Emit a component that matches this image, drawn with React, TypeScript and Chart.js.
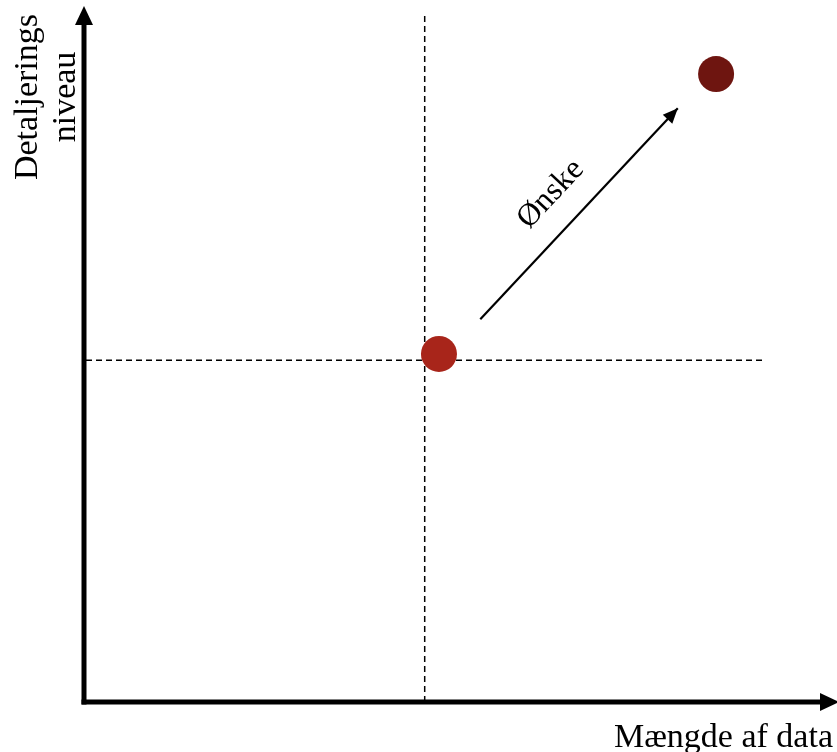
import React, { useEffect, useRef } from "react";
import { Chart, registerables } from "chart.js";

Chart.register(...registerables);

// ---- data (axis units 0..100) ----
const pointXs = [47.0, 83.9];
const pointYs = [50.3, 90.75];
const pointColors = ["#A8251A", "#6E1510"];
const refLineX = 45.1; // vertical dashed reference
const refLineY = 49.4; // horizontal dashed reference
const hLineXs = [0, 90.4];
const vLineYs = [0, 99.7];
const arrowXs = [52.5, 78.8];
const arrowYs = [55.3, 85.8];
const arrowLabel = "Ønske";
const yTitle = ["Detaljerings", "niveau"];
const xTitle = "Mængde af data";

const FONT = "'Liberation Serif', 'Times New Roman', serif";

const decorPlugin = {
  id: "decor",
  afterDatasetsDraw(chart: any) {
    const { ctx, chartArea, scales } = chart;
    const xs = scales.x;
    const ys = scales.y;
    ctx.save();
    // Ønske arrowhead
    const x1 = xs.getPixelForValue(arrowXs[0]);
    const y1 = ys.getPixelForValue(arrowYs[0]);
    const x2 = xs.getPixelForValue(arrowXs[1]);
    const y2 = ys.getPixelForValue(arrowYs[1]);
    const ang = Math.atan2(y2 - y1, x2 - x1);
    const hl = 15, hw = 6.5;
    ctx.fillStyle = "#000";
    ctx.beginPath();
    ctx.moveTo(x2, y2);
    ctx.lineTo(x2 - hl * Math.cos(ang) + hw * Math.sin(ang), y2 - hl * Math.sin(ang) - hw * Math.cos(ang));
    ctx.lineTo(x2 - hl * Math.cos(ang) - hw * Math.sin(ang), y2 - hl * Math.sin(ang) + hw * Math.cos(ang));
    ctx.closePath();
    ctx.fill();

    // label along arrow
    const mx = (x1 + x2) / 2, my = (y1 + y2) / 2;
    const off = 18;
    const lx = mx + off * Math.sin(ang) - 5 * Math.cos(ang);
    const ly = my - off * Math.cos(ang) - 5 * Math.sin(ang);
    ctx.translate(lx, ly);
    ctx.rotate(ang);
    ctx.font = `32px ${FONT}`;
    ctx.textAlign = "center";
    ctx.textBaseline = "bottom";
    ctx.fillText(arrowLabel, 0, 0);
    ctx.restore();

    ctx.save();
    // axes
    const ax = chartArea.left - 2;
    const ay = chartArea.bottom;
    ctx.strokeStyle = "#000";
    ctx.fillStyle = "#000";
    ctx.lineWidth = 5;
    ctx.lineCap = "butt";
    ctx.beginPath();
    ctx.moveTo(ax, ay + 2.5);
    ctx.lineTo(ax, 22);
    ctx.stroke();
    ctx.beginPath();
    ctx.moveTo(ax - 2.5, ay);
    ctx.lineTo(chartArea.right - 15, ay);
    ctx.stroke();
    ctx.beginPath();
    ctx.moveTo(ax, 6);
    ctx.lineTo(ax - 9, 25);
    ctx.lineTo(ax + 9, 25);
    ctx.closePath();
    ctx.fill();
    ctx.beginPath();
    ctx.moveTo(chartArea.right + 2, ay);
    ctx.lineTo(chartArea.right - 17, ay - 9);
    ctx.lineTo(chartArea.right - 17, ay + 9);
    ctx.closePath();
    ctx.fill();

    // titles
    ctx.font = `34px ${FONT}`;
    ctx.textAlign = "right";
    ctx.textBaseline = "alphabetic";
    ctx.fillText(xTitle, 833, 747);

    ctx.translate(0, 97);
    ctx.rotate(-Math.PI / 2);
    ctx.textAlign = "center";
    ctx.fillText(yTitle[0], 0, 37);
    ctx.fillText(yTitle[1], 0, 75);
    ctx.restore();
  },
};

export default function App() {
  const ref = useRef<HTMLCanvasElement | null>(null);
  useEffect(() => {
    document.body.style.margin = "0";
    const canvas = ref.current;
    if (!canvas) return;
    const chart = new Chart(canvas, {
      type: "scatter",
      data: {
        datasets: [
          {
            type: "scatter",
            data: pointXs.map((x, i) => ({ x, y: pointYs[i] })),
            backgroundColor: pointColors,
            borderWidth: 0,
            pointRadius: 18,
            pointHoverRadius: 18,
            order: 0,
          } as any,
          {
            type: "line",
            data: hLineXs.map((x) => ({ x, y: refLineY })),
            borderColor: "#000",
            borderWidth: 1.5,
            borderDash: [6, 4],
            pointRadius: 0,
            showLine: true,
            order: 1,
          },
          {
            type: "line",
            data: vLineYs.map((y) => ({ x: refLineX, y })),
            borderColor: "#000",
            borderWidth: 1.5,
            borderDash: [6, 4],
            pointRadius: 0,
            showLine: true,
            order: 1,
          },
          {
            type: "line",
            data: arrowXs.map((x, i) => ({ x, y: arrowYs[i] })),
            borderColor: "#000",
            borderWidth: 2.2,
            pointRadius: 0,
            showLine: true,
            order: 1,
          },
        ],
      },
      options: {
        responsive: false,
        maintainAspectRatio: false,
        animation: false,
        layout: { autoPadding: false, padding: { left: 86, right: 0, top: 10, bottom: 50 } },
        scales: {
          x: { type: "linear", min: 0, max: 100, display: false },
          y: { type: "linear", min: 0, max: 100, display: false },
        },
        plugins: { legend: { display: false }, tooltip: { enabled: false } },
        events: [],
      },
      plugins: [decorPlugin],
    });
    return () => chart.destroy();
  }, []);
  return (
    <div style={{ width: 837, height: 752 }}>
      <canvas ref={ref} width={837} height={752} style={{ width: 837, height: 752, display: "block" }} />
    </div>
  );
}
